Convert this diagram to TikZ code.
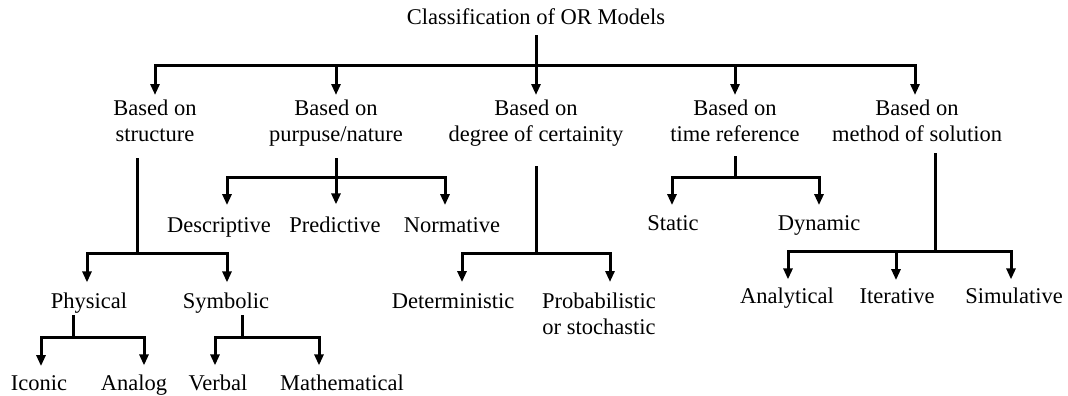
\documentclass[tikz,border=0pt]{standalone}
\usepackage{fontspec}
\setmainfont{Liberation Serif}
\usetikzlibrary{arrows.meta}
\begin{document}
\begin{tikzpicture}[x=1pt,y=-1pt,
  txt/.style={inner sep=0pt,outer sep=0pt,font=\fontsize{22.5}{25.5}\selectfont,align=center},
  ln/.style={line width=3pt,line join=miter},
  ar/.style={line width=3pt,line join=miter,-{Triangle[length=11pt,width=9pt]}}]
\useasboundingbox (0,0) rectangle (1068,396);
% title
\node[txt,anchor=base] (title) at (536,25) {Classification of OR Models};
% level 1
\node[txt,anchor=north] (s1) at (155,100) {Based on\\structure};
\node[txt,anchor=north] (s2) at (336,100) {Based on\\purpuse/nature};
\node[txt,anchor=north] (s3) at (536,100) {Based on\\degree of certainity};
\node[txt,anchor=north] (s4) at (735,100) {Based on\\time reference};
\node[txt,anchor=north] (s5) at (917,100) {Based on\\method of solution};
% level 2
\node[txt,anchor=base] (phys) at (89,308) {Physical};
\node[txt,anchor=base] (symb) at (226,308) {Symbolic};
\node[txt,anchor=base] (desc) at (219,232) {Descriptive};
\node[txt,anchor=base] (pred) at (335,232) {Predictive};
\node[txt,anchor=base] (norm) at (452,232) {Normative};
\node[txt,anchor=base] (det) at (453,308) {Deterministic};
\node[txt,anchor=north] (prob) at (599,293) {Probabilistic\\or stochastic};
\node[txt,anchor=base] (stat) at (673,230) {Static};
\node[txt,anchor=base] (dyn) at (819,230) {Dynamic};
\node[txt,anchor=base] (anal) at (787,303) {Analytical};
\node[txt,anchor=base] (iter) at (897,303) {Iterative};
\node[txt,anchor=base] (simu) at (1014,303) {Simulative};
% level 3
\node[txt,anchor=base] (icon) at (39,390) {Iconic};
\node[txt,anchor=base] (anlg) at (134,390) {Analog};
\node[txt,anchor=base] (verb) at (218,390) {Verbal};
\node[txt,anchor=base] (math) at (342,390) {Mathematical};
% junction coordinates
\coordinate (k0) at (536,66);
\coordinate (j1) at (137,158); \coordinate (k1) at (137,253);
\coordinate (j2) at (73,315);  \coordinate (k2) at (73,337);
\coordinate (j3) at (242,315); \coordinate (k3) at (242,337);
\coordinate (j4) at (336,158); \coordinate (k4) at (336,177);
\coordinate (j5) at (536,166); \coordinate (k5) at (536,253);
\coordinate (j6) at (735,156); \coordinate (k6) at (735,177);
\coordinate (j7) at (935,153); \coordinate (k7) at (935,251);
% top
\draw[ln] ([yshift=-10pt]title.south) -- (k0);
\foreach \n in {s1,s2,s3,s4}{\draw[ar] (k0) -| ([yshift=5pt]\n.north);}
\draw[ar] (k0) -| ([xshift=-2pt,yshift=5pt]s5.north);
% structure
\draw[ln] (j1) -- (k1);
\draw[ar] (k1) -| ([xshift=-2pt,yshift=10pt]phys.north);
\draw[ar] (k1) -| ([xshift=1pt,yshift=10pt]symb.north);
\draw[ln] (j2) -- (k2);
\draw[ar] (k2) -| ([xshift=2pt,yshift=9pt]icon.north);
\draw[ar] (k2) -| ([xshift=10pt,yshift=9pt]anlg.north);
\draw[ln] (j3) -- (k3);
\draw[ar] (k3) -| ([xshift=-3pt,yshift=9pt]verb.north);
\draw[ar] (k3) -| ([xshift=-23pt,yshift=9pt]math.north);
% purpose
\draw[ln] (j4) -- (k4);
\draw[ar] (k4) -| ([xshift=8pt,yshift=12pt]desc.north);
\draw[ar] (k4) -| ([xshift=1pt,yshift=12pt]pred.north);
\draw[ar] (k4) -| ([xshift=-7pt,yshift=12pt]norm.north);
% certainty
\draw[ln] (j5) -- (k5);
\draw[ar] (k5) -| ([xshift=9pt,yshift=11pt]det.north);
\draw[ar] (k5) -| ([xshift=11pt,yshift=11pt]prob.north);
% time
\draw[ln] (j6) -- (k6);
\draw[ar] (k6) -| ([xshift=-1pt,yshift=10pt]stat.north);
\draw[ar] (k6) -| ([yshift=10pt]dyn.north);
% method
\draw[ln] (j7) -- (k7);
\draw[ar] (k7) -| ([xshift=1pt,yshift=8pt]anal.north);
\draw[ar] (k7) -| ([xshift=-1pt,yshift=8pt]iter.north);
\draw[ar] (k7) -| ([xshift=-3pt,yshift=8pt]simu.north);
\end{tikzpicture}
\end{document}
